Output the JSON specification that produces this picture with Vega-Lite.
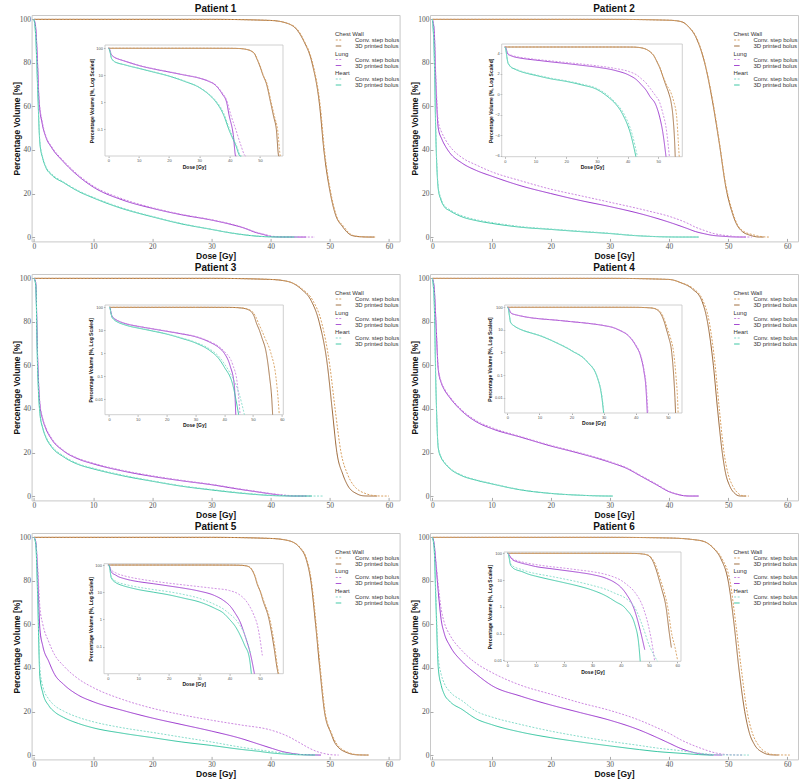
{
"$schema":"https://vega.github.io/schema/vega-lite/v6.json",
"padding":{"left":11.6,"top":3,"right":0,"bottom":0},
"config":{
 "view":{"stroke":"#c8c8c8"},
 "title":{"fontSize":10,"font":"Liberation Sans","fontWeight":"bold","offset":1,"frame":"group","color":"#111"},
 "axis":{"labelFont":"Liberation Serif","labelFontSize":7.5,"labelColor":"#555","titleFont":"Liberation Sans","titleFontSize":8.5,"titleFontWeight":"bold","titleColor":"#111","domain":false,"grid":false,"tickColor":"#aaa","tickSize":-3,"labelPadding":4,"titlePadding":2},
 "axisY":{"titlePadding":-2},
 "legend":{"orient":"none","legendX":303.4,"titleFontSize":6,"labelFontSize":6,"titleFontWeight":"normal","titleFont":"Liberation Sans","labelFont":"Liberation Sans","titleColor":"#333","labelColor":"#333","titlePadding":0,"rowPadding":0,"padding":0,"symbolSize":30,"clipHeight":6,"symbolStrokeWidth":1,"labelOffset":13}
},
"datasets":{
"ser":[{"s":"CC","organ":"Chest Wall","bolus":"Conv. step bolus"},{"s":"C3","organ":"Chest Wall","bolus":"3D printed bolus"},{"s":"LC","organ":"Lung","bolus":"Conv. step bolus"},{"s":"L3","organ":"Lung","bolus":"3D printed bolus"},{"s":"HC","organ":"Heart","bolus":"Conv. step bolus"},{"s":"H3","organ":"Heart","bolus":"3D printed bolus"}],
"dvh":[
{"p":1,"s":"C3","d":0,"v":100},{"p":1,"s":"C3","d":30,"v":100},{"p":1,"s":"C3","d":40,"v":99.5},{"p":1,"s":"C3","d":43,"v":98},{"p":1,"s":"C3","d":44.5,"v":95},{"p":1,"s":"C3","d":45.6,"v":90},{"p":1,"s":"C3","d":47,"v":80},{"p":1,"s":"C3","d":48.3,"v":60},{"p":1,"s":"C3","d":49,"v":40},{"p":1,"s":"C3","d":50.1,"v":20},{"p":1,"s":"C3","d":51,"v":10},{"p":1,"s":"C3","d":52.1,"v":5},{"p":1,"s":"C3","d":53.5,"v":1},{"p":1,"s":"C3","d":54.5,"v":0.3},{"p":1,"s":"C3","d":55.4,"v":0.1},{"p":1,"s":"C3","d":56.2,"v":0.01},{"p":1,"s":"C3","d":56.4,"v":0.001},{"p":1,"s":"C3","d":57.5,"v":0},
{"p":1,"s":"CC","d":0,"v":100},{"p":1,"s":"CC","d":30,"v":100},{"p":1,"s":"CC","d":40,"v":99.5},{"p":1,"s":"CC","d":43,"v":98},{"p":1,"s":"CC","d":44.5,"v":95.5},{"p":1,"s":"CC","d":45.7,"v":90},{"p":1,"s":"CC","d":47.1,"v":80},{"p":1,"s":"CC","d":48.4,"v":60},{"p":1,"s":"CC","d":49.1,"v":40},{"p":1,"s":"CC","d":50.2,"v":20},{"p":1,"s":"CC","d":51.1,"v":10},{"p":1,"s":"CC","d":52.3,"v":5},{"p":1,"s":"CC","d":53.7,"v":1},{"p":1,"s":"CC","d":54.8,"v":0.3},{"p":1,"s":"CC","d":55.8,"v":0.1},{"p":1,"s":"CC","d":56.8,"v":0.01},{"p":1,"s":"CC","d":57,"v":0.001},{"p":1,"s":"CC","d":57.8,"v":0},
{"p":1,"s":"L3","d":0,"v":100},{"p":1,"s":"L3","d":0.3,"v":96},{"p":1,"s":"L3","d":0.6,"v":80},{"p":1,"s":"L3","d":0.85,"v":63},{"p":1,"s":"L3","d":1.4,"v":52},{"p":1,"s":"L3","d":2,"v":46},{"p":1,"s":"L3","d":3,"v":41},{"p":1,"s":"L3","d":5,"v":34.5},{"p":1,"s":"L3","d":7.5,"v":28},{"p":1,"s":"L3","d":10,"v":23},{"p":1,"s":"L3","d":15,"v":17},{"p":1,"s":"L3","d":20,"v":13.2},{"p":1,"s":"L3","d":25,"v":10.2},{"p":1,"s":"L3","d":30,"v":7.8},{"p":1,"s":"L3","d":33,"v":6},{"p":1,"s":"L3","d":35.2,"v":4.4},{"p":1,"s":"L3","d":37.6,"v":2},{"p":1,"s":"L3","d":39,"v":1},{"p":1,"s":"L3","d":39.8,"v":0.34},{"p":1,"s":"L3","d":41.2,"v":0.063},{"p":1,"s":"L3","d":42,"v":0.01},{"p":1,"s":"L3","d":42.2,"v":0.001},{"p":1,"s":"L3","d":46,"v":0},
{"p":1,"s":"LC","d":0,"v":100},{"p":1,"s":"LC","d":0.3,"v":96},{"p":1,"s":"LC","d":0.6,"v":81},{"p":1,"s":"LC","d":0.85,"v":64},{"p":1,"s":"LC","d":1.4,"v":53},{"p":1,"s":"LC","d":2,"v":46.5},{"p":1,"s":"LC","d":3,"v":41.5},{"p":1,"s":"LC","d":5,"v":35},{"p":1,"s":"LC","d":7.5,"v":28.5},{"p":1,"s":"LC","d":10,"v":23.5},{"p":1,"s":"LC","d":15,"v":17.5},{"p":1,"s":"LC","d":20,"v":13.5},{"p":1,"s":"LC","d":25,"v":10.4},{"p":1,"s":"LC","d":30,"v":8},{"p":1,"s":"LC","d":33,"v":6.2},{"p":1,"s":"LC","d":35.2,"v":4.6},{"p":1,"s":"LC","d":37.6,"v":2.2},{"p":1,"s":"LC","d":39,"v":1.2},{"p":1,"s":"LC","d":40.4,"v":0.34},{"p":1,"s":"LC","d":42,"v":0.1},{"p":1,"s":"LC","d":43.5,"v":0.03},{"p":1,"s":"LC","d":45.3,"v":0.01},{"p":1,"s":"LC","d":45.5,"v":0.001},{"p":1,"s":"LC","d":47.5,"v":0},
{"p":1,"s":"H3","d":0,"v":100},{"p":1,"s":"H3","d":0.3,"v":92},{"p":1,"s":"H3","d":0.6,"v":70},{"p":1,"s":"H3","d":1,"v":43},{"p":1,"s":"H3","d":1.5,"v":36},{"p":1,"s":"H3","d":2,"v":32},{"p":1,"s":"H3","d":3,"v":28.5},{"p":1,"s":"H3","d":5,"v":25},{"p":1,"s":"H3","d":7.5,"v":21},{"p":1,"s":"H3","d":10,"v":18},{"p":1,"s":"H3","d":15,"v":13},{"p":1,"s":"H3","d":20,"v":9.3},{"p":1,"s":"H3","d":25,"v":6},{"p":1,"s":"H3","d":30,"v":3.5},{"p":1,"s":"H3","d":33,"v":2},{"p":1,"s":"H3","d":35,"v":1.2},{"p":1,"s":"H3","d":38,"v":0.34},{"p":1,"s":"H3","d":40,"v":0.083},{"p":1,"s":"H3","d":42,"v":0.026},{"p":1,"s":"H3","d":43.5,"v":0.01},{"p":1,"s":"H3","d":43.7,"v":0.001},{"p":1,"s":"H3","d":44,"v":0},
{"p":1,"s":"HC","d":0,"v":100},{"p":1,"s":"HC","d":0.3,"v":92},{"p":1,"s":"HC","d":0.6,"v":71},{"p":1,"s":"HC","d":1,"v":44},{"p":1,"s":"HC","d":1.5,"v":36.5},{"p":1,"s":"HC","d":2,"v":32.5},{"p":1,"s":"HC","d":3,"v":29},{"p":1,"s":"HC","d":5,"v":25.3},{"p":1,"s":"HC","d":7.5,"v":21.3},{"p":1,"s":"HC","d":10,"v":18.3},{"p":1,"s":"HC","d":15,"v":13.3},{"p":1,"s":"HC","d":20,"v":9.5},{"p":1,"s":"HC","d":25,"v":6.2},{"p":1,"s":"HC","d":30,"v":3.6},{"p":1,"s":"HC","d":33,"v":2.1},{"p":1,"s":"HC","d":35,"v":1.3},{"p":1,"s":"HC","d":38,"v":0.4},{"p":1,"s":"HC","d":40,"v":0.1},{"p":1,"s":"HC","d":42,"v":0.03},{"p":1,"s":"HC","d":43.8,"v":0.01},{"p":1,"s":"HC","d":44,"v":0.001},{"p":1,"s":"HC","d":44.5,"v":0},
{"p":2,"s":"C3","d":0,"v":100},{"p":2,"s":"C3","d":30,"v":100},{"p":2,"s":"C3","d":40,"v":99.6},{"p":2,"s":"C3","d":42,"v":99},{"p":2,"s":"C3","d":43.5,"v":96},{"p":2,"s":"C3","d":44.5,"v":92},{"p":2,"s":"C3","d":46.2,"v":78},{"p":2,"s":"C3","d":47.3,"v":63},{"p":2,"s":"C3","d":48.5,"v":43},{"p":2,"s":"C3","d":49.6,"v":23},{"p":2,"s":"C3","d":50.7,"v":11},{"p":2,"s":"C3","d":51.5,"v":5.5},{"p":2,"s":"C3","d":52.4,"v":2.5},{"p":2,"s":"C3","d":53.5,"v":1},{"p":2,"s":"C3","d":54.1,"v":0.5},{"p":2,"s":"C3","d":54.8,"v":0.1},{"p":2,"s":"C3","d":55.3,"v":0.01},{"p":2,"s":"C3","d":55.5,"v":0.002},{"p":2,"s":"C3","d":56,"v":0},
{"p":2,"s":"CC","d":0,"v":100},{"p":2,"s":"CC","d":30,"v":100},{"p":2,"s":"CC","d":40,"v":99.6},{"p":2,"s":"CC","d":42,"v":99},{"p":2,"s":"CC","d":43.5,"v":96.2},{"p":2,"s":"CC","d":44.5,"v":92.5},{"p":2,"s":"CC","d":46.2,"v":78.5},{"p":2,"s":"CC","d":47.3,"v":64},{"p":2,"s":"CC","d":48.5,"v":44},{"p":2,"s":"CC","d":49.6,"v":24},{"p":2,"s":"CC","d":50.7,"v":12},{"p":2,"s":"CC","d":51.5,"v":6},{"p":2,"s":"CC","d":52.5,"v":2.8},{"p":2,"s":"CC","d":54.3,"v":1},{"p":2,"s":"CC","d":55,"v":0.5},{"p":2,"s":"CC","d":56,"v":0.1},{"p":2,"s":"CC","d":56.5,"v":0.01},{"p":2,"s":"CC","d":56.8,"v":0.002},{"p":2,"s":"CC","d":57,"v":0},
{"p":2,"s":"L3","d":0,"v":100},{"p":2,"s":"L3","d":0.3,"v":95},{"p":2,"s":"L3","d":0.6,"v":70},{"p":2,"s":"L3","d":1,"v":50},{"p":2,"s":"L3","d":1.6,"v":45},{"p":2,"s":"L3","d":2.25,"v":41.5},{"p":2,"s":"L3","d":3,"v":38.5},{"p":2,"s":"L3","d":5,"v":34},{"p":2,"s":"L3","d":7.5,"v":30.5},{"p":2,"s":"L3","d":10,"v":28},{"p":2,"s":"L3","d":15,"v":23.5},{"p":2,"s":"L3","d":20,"v":20},{"p":2,"s":"L3","d":25,"v":16.8},{"p":2,"s":"L3","d":30,"v":14},{"p":2,"s":"L3","d":36,"v":10.1},{"p":2,"s":"L3","d":40.6,"v":6.3},{"p":2,"s":"L3","d":43,"v":4},{"p":2,"s":"L3","d":44.5,"v":2.5},{"p":2,"s":"L3","d":46,"v":1.5},{"p":2,"s":"L3","d":47.3,"v":0.8},{"p":2,"s":"L3","d":49.2,"v":0.35},{"p":2,"s":"L3","d":50.5,"v":0.1},{"p":2,"s":"L3","d":51.4,"v":0.027},{"p":2,"s":"L3","d":52.5,"v":0.002},{"p":2,"s":"L3","d":53,"v":0},
{"p":2,"s":"LC","d":0,"v":100},{"p":2,"s":"LC","d":0.3,"v":96},{"p":2,"s":"LC","d":0.6,"v":73},{"p":2,"s":"LC","d":1,"v":53},{"p":2,"s":"LC","d":1.6,"v":48},{"p":2,"s":"LC","d":2.25,"v":44.5},{"p":2,"s":"LC","d":3,"v":41.5},{"p":2,"s":"LC","d":5,"v":36.5},{"p":2,"s":"LC","d":7.5,"v":33},{"p":2,"s":"LC","d":10,"v":30},{"p":2,"s":"LC","d":15,"v":25.8},{"p":2,"s":"LC","d":20,"v":22},{"p":2,"s":"LC","d":25,"v":19},{"p":2,"s":"LC","d":30,"v":16},{"p":2,"s":"LC","d":36,"v":12.3},{"p":2,"s":"LC","d":40.6,"v":9},{"p":2,"s":"LC","d":43,"v":6.5},{"p":2,"s":"LC","d":44.5,"v":4.5},{"p":2,"s":"LC","d":46,"v":3},{"p":2,"s":"LC","d":47.3,"v":1.8},{"p":2,"s":"LC","d":49,"v":0.9},{"p":2,"s":"LC","d":50.3,"v":0.5},{"p":2,"s":"LC","d":51.5,"v":0.15},{"p":2,"s":"LC","d":52.5,"v":0.04},{"p":2,"s":"LC","d":53.6,"v":0.002},{"p":2,"s":"LC","d":54,"v":0},
{"p":2,"s":"H3","d":0,"v":100},{"p":2,"s":"H3","d":0.3,"v":85},{"p":2,"s":"H3","d":0.6,"v":45},{"p":2,"s":"H3","d":1,"v":22},{"p":2,"s":"H3","d":1.4,"v":17.5},{"p":2,"s":"H3","d":2,"v":14},{"p":2,"s":"H3","d":3,"v":12},{"p":2,"s":"H3","d":5,"v":9.3},{"p":2,"s":"H3","d":7.5,"v":7.5},{"p":2,"s":"H3","d":10,"v":6.3},{"p":2,"s":"H3","d":15,"v":4.5},{"p":2,"s":"H3","d":20,"v":3.5},{"p":2,"s":"H3","d":25,"v":2.5},{"p":2,"s":"H3","d":30,"v":1.6},{"p":2,"s":"H3","d":34,"v":0.7},{"p":2,"s":"H3","d":36,"v":0.4},{"p":2,"s":"H3","d":38.4,"v":0.14},{"p":2,"s":"H3","d":41,"v":0.02},{"p":2,"s":"H3","d":42.7,"v":0.002},{"p":2,"s":"H3","d":45,"v":0},
{"p":2,"s":"HC","d":0,"v":100},{"p":2,"s":"HC","d":0.3,"v":86},{"p":2,"s":"HC","d":0.6,"v":47},{"p":2,"s":"HC","d":1,"v":23},{"p":2,"s":"HC","d":1.4,"v":18.2},{"p":2,"s":"HC","d":2,"v":14.6},{"p":2,"s":"HC","d":3,"v":12.5},{"p":2,"s":"HC","d":5,"v":9.8},{"p":2,"s":"HC","d":7.5,"v":7.9},{"p":2,"s":"HC","d":10,"v":6.7},{"p":2,"s":"HC","d":15,"v":4.8},{"p":2,"s":"HC","d":20,"v":3.7},{"p":2,"s":"HC","d":25,"v":2.7},{"p":2,"s":"HC","d":30,"v":1.75},{"p":2,"s":"HC","d":34,"v":0.8},{"p":2,"s":"HC","d":36,"v":0.45},{"p":2,"s":"HC","d":38.9,"v":0.14},{"p":2,"s":"HC","d":41.5,"v":0.02},{"p":2,"s":"HC","d":43.2,"v":0.002},{"p":2,"s":"HC","d":45,"v":0},
{"p":3,"s":"C3","d":0,"v":100},{"p":3,"s":"C3","d":30,"v":100},{"p":3,"s":"C3","d":40,"v":99.5},{"p":3,"s":"C3","d":43,"v":98.5},{"p":3,"s":"C3","d":45.2,"v":95},{"p":3,"s":"C3","d":46.8,"v":90},{"p":3,"s":"C3","d":48.2,"v":80},{"p":3,"s":"C3","d":49.6,"v":60},{"p":3,"s":"C3","d":50.4,"v":40},{"p":3,"s":"C3","d":51.2,"v":20},{"p":3,"s":"C3","d":52.2,"v":10},{"p":3,"s":"C3","d":53,"v":5},{"p":3,"s":"C3","d":54.6,"v":1},{"p":3,"s":"C3","d":55.7,"v":0.1},{"p":3,"s":"C3","d":56.5,"v":0.01},{"p":3,"s":"C3","d":56.8,"v":0.001},{"p":3,"s":"C3","d":58,"v":0},
{"p":3,"s":"CC","d":0,"v":100},{"p":3,"s":"CC","d":30,"v":100},{"p":3,"s":"CC","d":40,"v":99.5},{"p":3,"s":"CC","d":43,"v":98.5},{"p":3,"s":"CC","d":45.4,"v":95},{"p":3,"s":"CC","d":47.1,"v":90},{"p":3,"s":"CC","d":48.6,"v":80},{"p":3,"s":"CC","d":50,"v":60},{"p":3,"s":"CC","d":50.9,"v":40},{"p":3,"s":"CC","d":51.9,"v":20},{"p":3,"s":"CC","d":53,"v":10},{"p":3,"s":"CC","d":54,"v":5},{"p":3,"s":"CC","d":56.2,"v":1},{"p":3,"s":"CC","d":57.9,"v":0.1},{"p":3,"s":"CC","d":58.7,"v":0.01},{"p":3,"s":"CC","d":59.1,"v":0.001},{"p":3,"s":"CC","d":60,"v":0},
{"p":3,"s":"L3","d":0,"v":100},{"p":3,"s":"L3","d":0.3,"v":98},{"p":3,"s":"L3","d":0.6,"v":65},{"p":3,"s":"L3","d":1,"v":42},{"p":3,"s":"L3","d":1.5,"v":35},{"p":3,"s":"L3","d":2,"v":31},{"p":3,"s":"L3","d":3,"v":26},{"p":3,"s":"L3","d":5,"v":20.7},{"p":3,"s":"L3","d":7.5,"v":17},{"p":3,"s":"L3","d":10,"v":14.8},{"p":3,"s":"L3","d":15,"v":11.5},{"p":3,"s":"L3","d":20,"v":9},{"p":3,"s":"L3","d":25,"v":7},{"p":3,"s":"L3","d":30,"v":5.2},{"p":3,"s":"L3","d":35,"v":3},{"p":3,"s":"L3","d":38,"v":1.8},{"p":3,"s":"L3","d":40,"v":1},{"p":3,"s":"L3","d":42,"v":0.29},{"p":3,"s":"L3","d":43.5,"v":0.04},{"p":3,"s":"L3","d":44,"v":0.001},{"p":3,"s":"L3","d":46,"v":0},
{"p":3,"s":"LC","d":0,"v":100},{"p":3,"s":"LC","d":0.3,"v":98},{"p":3,"s":"LC","d":0.6,"v":66},{"p":3,"s":"LC","d":1,"v":43},{"p":3,"s":"LC","d":1.5,"v":35.5},{"p":3,"s":"LC","d":2,"v":31.5},{"p":3,"s":"LC","d":3,"v":26.5},{"p":3,"s":"LC","d":5,"v":21},{"p":3,"s":"LC","d":7.5,"v":17.3},{"p":3,"s":"LC","d":10,"v":15.1},{"p":3,"s":"LC","d":15,"v":11.8},{"p":3,"s":"LC","d":20,"v":9.3},{"p":3,"s":"LC","d":25,"v":7.2},{"p":3,"s":"LC","d":30,"v":5.4},{"p":3,"s":"LC","d":35,"v":3.2},{"p":3,"s":"LC","d":38,"v":2},{"p":3,"s":"LC","d":40,"v":1.2},{"p":3,"s":"LC","d":43,"v":0.3},{"p":3,"s":"LC","d":44.5,"v":0.05},{"p":3,"s":"LC","d":45.5,"v":0.001},{"p":3,"s":"LC","d":47,"v":0},
{"p":3,"s":"H3","d":0,"v":100},{"p":3,"s":"H3","d":0.3,"v":97},{"p":3,"s":"H3","d":0.6,"v":60},{"p":3,"s":"H3","d":1,"v":38},{"p":3,"s":"H3","d":1.5,"v":31},{"p":3,"s":"H3","d":2,"v":27},{"p":3,"s":"H3","d":3,"v":22.5},{"p":3,"s":"H3","d":5,"v":18},{"p":3,"s":"H3","d":7.5,"v":14.5},{"p":3,"s":"H3","d":10,"v":12.5},{"p":3,"s":"H3","d":15,"v":9.3},{"p":3,"s":"H3","d":20,"v":6.8},{"p":3,"s":"H3","d":25,"v":4.5},{"p":3,"s":"H3","d":30,"v":2.8},{"p":3,"s":"H3","d":35,"v":1.3},{"p":3,"s":"H3","d":38,"v":0.6},{"p":3,"s":"H3","d":40,"v":0.25},{"p":3,"s":"H3","d":43,"v":0.04},{"p":3,"s":"H3","d":45,"v":0.001},{"p":3,"s":"H3","d":47,"v":0},
{"p":3,"s":"HC","d":0,"v":100},{"p":3,"s":"HC","d":0.3,"v":97},{"p":3,"s":"HC","d":0.6,"v":61},{"p":3,"s":"HC","d":1,"v":39},{"p":3,"s":"HC","d":1.5,"v":31.5},{"p":3,"s":"HC","d":2,"v":27.5},{"p":3,"s":"HC","d":3,"v":23},{"p":3,"s":"HC","d":5,"v":18.4},{"p":3,"s":"HC","d":7.5,"v":14.8},{"p":3,"s":"HC","d":10,"v":12.8},{"p":3,"s":"HC","d":15,"v":9.6},{"p":3,"s":"HC","d":20,"v":7},{"p":3,"s":"HC","d":25,"v":4.7},{"p":3,"s":"HC","d":30,"v":3},{"p":3,"s":"HC","d":35,"v":1.5},{"p":3,"s":"HC","d":38,"v":0.75},{"p":3,"s":"HC","d":40,"v":0.35},{"p":3,"s":"HC","d":43,"v":0.08},{"p":3,"s":"HC","d":45,"v":0.02},{"p":3,"s":"HC","d":47,"v":0.001},{"p":3,"s":"HC","d":49,"v":0},
{"p":4,"s":"C3","d":0,"v":100},{"p":4,"s":"C3","d":30,"v":100},{"p":4,"s":"C3","d":40,"v":99.5},{"p":4,"s":"C3","d":42,"v":98},{"p":4,"s":"C3","d":44,"v":95},{"p":4,"s":"C3","d":45.5,"v":90},{"p":4,"s":"C3","d":46.5,"v":80},{"p":4,"s":"C3","d":47.5,"v":60},{"p":4,"s":"C3","d":48.2,"v":40},{"p":4,"s":"C3","d":49,"v":20},{"p":4,"s":"C3","d":49.6,"v":10},{"p":4,"s":"C3","d":50.2,"v":5},{"p":4,"s":"C3","d":51.2,"v":1},{"p":4,"s":"C3","d":51.8,"v":0.1},{"p":4,"s":"C3","d":52.2,"v":0.01},{"p":4,"s":"C3","d":52.4,"v":0.001},{"p":4,"s":"C3","d":53,"v":0},
{"p":4,"s":"CC","d":0,"v":100},{"p":4,"s":"CC","d":30,"v":100},{"p":4,"s":"CC","d":40,"v":99.5},{"p":4,"s":"CC","d":42,"v":98},{"p":4,"s":"CC","d":44,"v":95.5},{"p":4,"s":"CC","d":45.7,"v":90},{"p":4,"s":"CC","d":46.8,"v":80},{"p":4,"s":"CC","d":47.8,"v":60},{"p":4,"s":"CC","d":48.5,"v":40},{"p":4,"s":"CC","d":49.3,"v":20},{"p":4,"s":"CC","d":50,"v":10},{"p":4,"s":"CC","d":50.7,"v":5},{"p":4,"s":"CC","d":51.8,"v":1},{"p":4,"s":"CC","d":52.5,"v":0.1},{"p":4,"s":"CC","d":53,"v":0.01},{"p":4,"s":"CC","d":53.2,"v":0.001},{"p":4,"s":"CC","d":53.5,"v":0},
{"p":4,"s":"L3","d":0,"v":100},{"p":4,"s":"L3","d":0.3,"v":96},{"p":4,"s":"L3","d":0.6,"v":80},{"p":4,"s":"L3","d":1,"v":58},{"p":4,"s":"L3","d":1.5,"v":52},{"p":4,"s":"L3","d":2,"v":49},{"p":4,"s":"L3","d":3,"v":45},{"p":4,"s":"L3","d":5,"v":39},{"p":4,"s":"L3","d":7.5,"v":34},{"p":4,"s":"L3","d":10,"v":31},{"p":4,"s":"L3","d":15,"v":27},{"p":4,"s":"L3","d":20,"v":23},{"p":4,"s":"L3","d":25,"v":19.5},{"p":4,"s":"L3","d":30,"v":15.5},{"p":4,"s":"L3","d":33,"v":12.5},{"p":4,"s":"L3","d":35,"v":9.5},{"p":4,"s":"L3","d":38,"v":5},{"p":4,"s":"L3","d":40,"v":2},{"p":4,"s":"L3","d":41.5,"v":0.7},{"p":4,"s":"L3","d":42.5,"v":0.16},{"p":4,"s":"L3","d":43.2,"v":0.024},{"p":4,"s":"L3","d":43.6,"v":0.001},{"p":4,"s":"L3","d":45,"v":0},
{"p":4,"s":"LC","d":0,"v":100},{"p":4,"s":"LC","d":0.3,"v":96},{"p":4,"s":"LC","d":0.6,"v":81},{"p":4,"s":"LC","d":1,"v":59},{"p":4,"s":"LC","d":1.5,"v":52.5},{"p":4,"s":"LC","d":2,"v":49.5},{"p":4,"s":"LC","d":3,"v":45.5},{"p":4,"s":"LC","d":5,"v":39.5},{"p":4,"s":"LC","d":7.5,"v":34.5},{"p":4,"s":"LC","d":10,"v":31.5},{"p":4,"s":"LC","d":15,"v":27.3},{"p":4,"s":"LC","d":20,"v":23.3},{"p":4,"s":"LC","d":25,"v":19.8},{"p":4,"s":"LC","d":30,"v":15.8},{"p":4,"s":"LC","d":33,"v":12.8},{"p":4,"s":"LC","d":35,"v":9.8},{"p":4,"s":"LC","d":38,"v":5.3},{"p":4,"s":"LC","d":40,"v":2.2},{"p":4,"s":"LC","d":41.5,"v":0.8},{"p":4,"s":"LC","d":42.5,"v":0.2},{"p":4,"s":"LC","d":43.3,"v":0.03},{"p":4,"s":"LC","d":43.8,"v":0.001},{"p":4,"s":"LC","d":45,"v":0},
{"p":4,"s":"H3","d":0,"v":100},{"p":4,"s":"H3","d":0.3,"v":90},{"p":4,"s":"H3","d":0.6,"v":50},{"p":4,"s":"H3","d":1,"v":22},{"p":4,"s":"H3","d":1.5,"v":17.5},{"p":4,"s":"H3","d":2,"v":15.4},{"p":4,"s":"H3","d":3,"v":12.5},{"p":4,"s":"H3","d":5,"v":9.3},{"p":4,"s":"H3","d":7.5,"v":7.2},{"p":4,"s":"H3","d":10,"v":5.6},{"p":4,"s":"H3","d":15,"v":2.8},{"p":4,"s":"H3","d":20,"v":1.2},{"p":4,"s":"H3","d":25,"v":0.37},{"p":4,"s":"H3","d":28,"v":0.08},{"p":4,"s":"H3","d":29.5,"v":0.009},{"p":4,"s":"H3","d":30,"v":0.001},{"p":4,"s":"H3","d":30.5,"v":0},
{"p":4,"s":"HC","d":0,"v":100},{"p":4,"s":"HC","d":0.3,"v":90},{"p":4,"s":"HC","d":0.6,"v":51},{"p":4,"s":"HC","d":1,"v":22.5},{"p":4,"s":"HC","d":1.5,"v":18},{"p":4,"s":"HC","d":2,"v":15.8},{"p":4,"s":"HC","d":3,"v":12.8},{"p":4,"s":"HC","d":5,"v":9.6},{"p":4,"s":"HC","d":7.5,"v":7.4},{"p":4,"s":"HC","d":10,"v":5.8},{"p":4,"s":"HC","d":15,"v":2.9},{"p":4,"s":"HC","d":20,"v":1.25},{"p":4,"s":"HC","d":25,"v":0.39},{"p":4,"s":"HC","d":28,"v":0.085},{"p":4,"s":"HC","d":29.6,"v":0.009},{"p":4,"s":"HC","d":30.1,"v":0.001},{"p":4,"s":"HC","d":30.5,"v":0},
{"p":5,"s":"C3","d":0,"v":100},{"p":5,"s":"C3","d":30,"v":100},{"p":5,"s":"C3","d":40,"v":99.5},{"p":5,"s":"C3","d":43,"v":98.5},{"p":5,"s":"C3","d":45,"v":95},{"p":5,"s":"C3","d":46,"v":90},{"p":5,"s":"C3","d":46.8,"v":80},{"p":5,"s":"C3","d":47.6,"v":60},{"p":5,"s":"C3","d":48.3,"v":40},{"p":5,"s":"C3","d":49.1,"v":20},{"p":5,"s":"C3","d":50.2,"v":10},{"p":5,"s":"C3","d":51,"v":5},{"p":5,"s":"C3","d":53,"v":1},{"p":5,"s":"C3","d":54.6,"v":0.1},{"p":5,"s":"C3","d":55.7,"v":0.015},{"p":5,"s":"C3","d":56,"v":0.005},{"p":5,"s":"C3","d":56.5,"v":0},
{"p":5,"s":"CC","d":0,"v":100},{"p":5,"s":"CC","d":30,"v":100},{"p":5,"s":"CC","d":40,"v":99.5},{"p":5,"s":"CC","d":43,"v":98.5},{"p":5,"s":"CC","d":45.1,"v":95},{"p":5,"s":"CC","d":46.1,"v":90},{"p":5,"s":"CC","d":46.9,"v":80},{"p":5,"s":"CC","d":47.7,"v":60},{"p":5,"s":"CC","d":48.4,"v":40},{"p":5,"s":"CC","d":49.2,"v":20},{"p":5,"s":"CC","d":50.3,"v":10},{"p":5,"s":"CC","d":51.2,"v":5},{"p":5,"s":"CC","d":53.3,"v":1},{"p":5,"s":"CC","d":54.9,"v":0.1},{"p":5,"s":"CC","d":55.9,"v":0.015},{"p":5,"s":"CC","d":56.2,"v":0.005},{"p":5,"s":"CC","d":56.6,"v":0},
{"p":5,"s":"L3","d":0,"v":100},{"p":5,"s":"L3","d":0.3,"v":98},{"p":5,"s":"L3","d":0.6,"v":85},{"p":5,"s":"L3","d":1,"v":58},{"p":5,"s":"L3","d":1.5,"v":50},{"p":5,"s":"L3","d":2.5,"v":43},{"p":5,"s":"L3","d":3.5,"v":37},{"p":5,"s":"L3","d":5,"v":32.5},{"p":5,"s":"L3","d":7.5,"v":27.5},{"p":5,"s":"L3","d":10,"v":24.5},{"p":5,"s":"L3","d":15,"v":20.5},{"p":5,"s":"L3","d":20,"v":17},{"p":5,"s":"L3","d":25,"v":14},{"p":5,"s":"L3","d":30,"v":11},{"p":5,"s":"L3","d":35,"v":7.6},{"p":5,"s":"L3","d":38,"v":5},{"p":5,"s":"L3","d":40.3,"v":3},{"p":5,"s":"L3","d":42,"v":1.6},{"p":5,"s":"L3","d":43.5,"v":0.8},{"p":5,"s":"L3","d":45,"v":0.27},{"p":5,"s":"L3","d":47,"v":0.047},{"p":5,"s":"L3","d":48.2,"v":0.005},{"p":5,"s":"L3","d":48.5,"v":0},
{"p":5,"s":"LC","d":0,"v":100},{"p":5,"s":"LC","d":0.3,"v":98},{"p":5,"s":"LC","d":0.6,"v":88},{"p":5,"s":"LC","d":1,"v":68},{"p":5,"s":"LC","d":1.5,"v":60},{"p":5,"s":"LC","d":2.5,"v":52},{"p":5,"s":"LC","d":3.5,"v":46},{"p":5,"s":"LC","d":5,"v":41},{"p":5,"s":"LC","d":7.5,"v":35},{"p":5,"s":"LC","d":10,"v":31},{"p":5,"s":"LC","d":15,"v":25.5},{"p":5,"s":"LC","d":20,"v":21.5},{"p":5,"s":"LC","d":25,"v":18.5},{"p":5,"s":"LC","d":30,"v":16},{"p":5,"s":"LC","d":35,"v":13.8},{"p":5,"s":"LC","d":40,"v":11.5},{"p":5,"s":"LC","d":43,"v":8.5},{"p":5,"s":"LC","d":45,"v":5.5},{"p":5,"s":"LC","d":46.5,"v":3.2},{"p":5,"s":"LC","d":48,"v":1.45},{"p":5,"s":"LC","d":49.2,"v":0.6},{"p":5,"s":"LC","d":50,"v":0.2},{"p":5,"s":"LC","d":50.8,"v":0.047},{"p":5,"s":"LC","d":51.5,"v":0},
{"p":5,"s":"H3","d":0,"v":100},{"p":5,"s":"H3","d":0.3,"v":97},{"p":5,"s":"H3","d":0.6,"v":75},{"p":5,"s":"H3","d":1,"v":36},{"p":5,"s":"H3","d":1.5,"v":28.5},{"p":5,"s":"H3","d":2.5,"v":22.7},{"p":5,"s":"H3","d":3.5,"v":19.8},{"p":5,"s":"H3","d":5,"v":17.3},{"p":5,"s":"H3","d":7.5,"v":14.5},{"p":5,"s":"H3","d":10,"v":12.5},{"p":5,"s":"H3","d":15,"v":10},{"p":5,"s":"H3","d":20,"v":8},{"p":5,"s":"H3","d":25,"v":6},{"p":5,"s":"H3","d":30,"v":4.4},{"p":5,"s":"H3","d":35,"v":2.6},{"p":5,"s":"H3","d":38,"v":1.7},{"p":5,"s":"H3","d":40,"v":1},{"p":5,"s":"H3","d":42,"v":0.53},{"p":5,"s":"H3","d":45,"v":0.11},{"p":5,"s":"H3","d":46.5,"v":0.04},{"p":5,"s":"H3","d":47.2,"v":0.005},{"p":5,"s":"H3","d":47.5,"v":0},
{"p":5,"s":"HC","d":0,"v":100},{"p":5,"s":"HC","d":0.3,"v":97},{"p":5,"s":"HC","d":0.6,"v":78},{"p":5,"s":"HC","d":1,"v":40},{"p":5,"s":"HC","d":1.5,"v":31.5},{"p":5,"s":"HC","d":2.5,"v":25.7},{"p":5,"s":"HC","d":3.5,"v":22.7},{"p":5,"s":"HC","d":5,"v":20.2},{"p":5,"s":"HC","d":7.5,"v":17.3},{"p":5,"s":"HC","d":10,"v":15.3},{"p":5,"s":"HC","d":15,"v":12.5},{"p":5,"s":"HC","d":20,"v":10.4},{"p":5,"s":"HC","d":25,"v":8.2},{"p":5,"s":"HC","d":30,"v":6},{"p":5,"s":"HC","d":35,"v":3.6},{"p":5,"s":"HC","d":38,"v":2.4},{"p":5,"s":"HC","d":40,"v":1.6},{"p":5,"s":"HC","d":42,"v":1},{"p":5,"s":"HC","d":45,"v":0.27},{"p":5,"s":"HC","d":47,"v":0.055},{"p":5,"s":"HC","d":48,"v":0},
{"p":6,"s":"C3","d":0,"v":100},{"p":6,"s":"C3","d":30,"v":100},{"p":6,"s":"C3","d":40,"v":99.7},{"p":6,"s":"C3","d":44,"v":99},{"p":6,"s":"C3","d":46,"v":98},{"p":6,"s":"C3","d":47.5,"v":95},{"p":6,"s":"C3","d":48.8,"v":90},{"p":6,"s":"C3","d":50,"v":80},{"p":6,"s":"C3","d":51,"v":60},{"p":6,"s":"C3","d":51.8,"v":40},{"p":6,"s":"C3","d":52.8,"v":20},{"p":6,"s":"C3","d":53.6,"v":10},{"p":6,"s":"C3","d":54.4,"v":5},{"p":6,"s":"C3","d":56,"v":1},{"p":6,"s":"C3","d":57.2,"v":0.1},{"p":6,"s":"C3","d":57.9,"v":0.03},{"p":6,"s":"C3","d":58.5,"v":0},
{"p":6,"s":"CC","d":0,"v":100},{"p":6,"s":"CC","d":30,"v":100},{"p":6,"s":"CC","d":40,"v":99.7},{"p":6,"s":"CC","d":44,"v":99},{"p":6,"s":"CC","d":46,"v":98},{"p":6,"s":"CC","d":47.6,"v":95},{"p":6,"s":"CC","d":49,"v":90},{"p":6,"s":"CC","d":50.3,"v":80},{"p":6,"s":"CC","d":51.3,"v":60},{"p":6,"s":"CC","d":52.2,"v":40},{"p":6,"s":"CC","d":53.2,"v":20},{"p":6,"s":"CC","d":54.1,"v":10},{"p":6,"s":"CC","d":55,"v":5},{"p":6,"s":"CC","d":56.6,"v":1},{"p":6,"s":"CC","d":58,"v":0.1},{"p":6,"s":"CC","d":59.2,"v":0.03},{"p":6,"s":"CC","d":60.1,"v":0.01},{"p":6,"s":"CC","d":60.4,"v":0},
{"p":6,"s":"L3","d":0,"v":100},{"p":6,"s":"L3","d":0.3,"v":97},{"p":6,"s":"L3","d":0.6,"v":88},{"p":6,"s":"L3","d":1,"v":75},{"p":6,"s":"L3","d":1.5,"v":62},{"p":6,"s":"L3","d":2,"v":56},{"p":6,"s":"L3","d":3,"v":50},{"p":6,"s":"L3","d":5,"v":43},{"p":6,"s":"L3","d":7.5,"v":37},{"p":6,"s":"L3","d":10,"v":32},{"p":6,"s":"L3","d":15,"v":27},{"p":6,"s":"L3","d":20,"v":23},{"p":6,"s":"L3","d":25,"v":19.5},{"p":6,"s":"L3","d":30,"v":16},{"p":6,"s":"L3","d":35,"v":11.5},{"p":6,"s":"L3","d":38,"v":8},{"p":6,"s":"L3","d":40,"v":5.5},{"p":6,"s":"L3","d":42,"v":3},{"p":6,"s":"L3","d":45,"v":0.7},{"p":6,"s":"L3","d":47,"v":0.12},{"p":6,"s":"L3","d":48.5,"v":0.025},{"p":6,"s":"L3","d":49,"v":0},
{"p":6,"s":"LC","d":0,"v":100},{"p":6,"s":"LC","d":0.3,"v":97},{"p":6,"s":"LC","d":0.6,"v":89},{"p":6,"s":"LC","d":1,"v":78},{"p":6,"s":"LC","d":1.5,"v":67},{"p":6,"s":"LC","d":2,"v":61},{"p":6,"s":"LC","d":3,"v":55},{"p":6,"s":"LC","d":5,"v":48},{"p":6,"s":"LC","d":7.5,"v":42},{"p":6,"s":"LC","d":10,"v":38},{"p":6,"s":"LC","d":15,"v":32},{"p":6,"s":"LC","d":20,"v":28},{"p":6,"s":"LC","d":25,"v":24},{"p":6,"s":"LC","d":30,"v":20.5},{"p":6,"s":"LC","d":35,"v":16},{"p":6,"s":"LC","d":38,"v":12.5},{"p":6,"s":"LC","d":40,"v":10},{"p":6,"s":"LC","d":42,"v":7},{"p":6,"s":"LC","d":45,"v":3.5},{"p":6,"s":"LC","d":48,"v":0.9},{"p":6,"s":"LC","d":50,"v":0.16},{"p":6,"s":"LC","d":51.5,"v":0.022},{"p":6,"s":"LC","d":52,"v":0.008},{"p":6,"s":"LC","d":52.5,"v":0},
{"p":6,"s":"H3","d":0,"v":100},{"p":6,"s":"H3","d":0.3,"v":95},{"p":6,"s":"H3","d":0.6,"v":70},{"p":6,"s":"H3","d":1,"v":40},{"p":6,"s":"H3","d":1.5,"v":32},{"p":6,"s":"H3","d":2,"v":28},{"p":6,"s":"H3","d":3,"v":24.5},{"p":6,"s":"H3","d":5,"v":21},{"p":6,"s":"H3","d":7.5,"v":16.5},{"p":6,"s":"H3","d":10,"v":14},{"p":6,"s":"H3","d":15,"v":10.5},{"p":6,"s":"H3","d":20,"v":8},{"p":6,"s":"H3","d":25,"v":6},{"p":6,"s":"H3","d":30,"v":4.2},{"p":6,"s":"H3","d":35,"v":2.5},{"p":6,"s":"H3","d":38,"v":1.6},{"p":6,"s":"H3","d":42,"v":0.8},{"p":6,"s":"H3","d":45,"v":0.22},{"p":6,"s":"H3","d":46.5,"v":0.03},{"p":6,"s":"H3","d":46.9,"v":0.005},{"p":6,"s":"H3","d":47.5,"v":0},
{"p":6,"s":"HC","d":0,"v":100},{"p":6,"s":"HC","d":0.3,"v":95},{"p":6,"s":"HC","d":0.6,"v":73},{"p":6,"s":"HC","d":1,"v":45},{"p":6,"s":"HC","d":1.5,"v":37},{"p":6,"s":"HC","d":2,"v":33},{"p":6,"s":"HC","d":3,"v":29},{"p":6,"s":"HC","d":5,"v":25},{"p":6,"s":"HC","d":7.5,"v":20},{"p":6,"s":"HC","d":10,"v":17.5},{"p":6,"s":"HC","d":15,"v":14},{"p":6,"s":"HC","d":20,"v":11},{"p":6,"s":"HC","d":25,"v":8.5},{"p":6,"s":"HC","d":30,"v":6.3},{"p":6,"s":"HC","d":35,"v":4.4},{"p":6,"s":"HC","d":38,"v":3.2},{"p":6,"s":"HC","d":42,"v":2},{"p":6,"s":"HC","d":45,"v":0.93},{"p":6,"s":"HC","d":48,"v":0.16},{"p":6,"s":"HC","d":50,"v":0.038},{"p":6,"s":"HC","d":52.8,"v":0.01},{"p":6,"s":"HC","d":53,"v":0.005},{"p":6,"s":"HC","d":53.5,"v":0}
]},
"data":{"name":"dvh"},
"transform":[{"lookup":"s","from":{"data":{"name":"ser"},"key":"s","fields":["organ","bolus"]}}],
"columns":2,
"spacing":{"row":1,"column":9.4},
"concat":[
{"width":368,"height":226.4,"title":"Patient 1",
 "layer":[
  {"layer":[
    {"transform":[{"filter":"datum.p==1 && datum.organ=='Chest Wall'"}],"mark":{"type":"line","strokeWidth":1,"interpolate":"monotone"},
     "encoding":{"x":{"field":"d","type":"quantitative","scale":{"domain":[-0.4,61.8],"nice":false,"zero":false},"axis":{"title":"Dose [Gy]","values":[0,10,20,30,40,50,60]}},
      "y":{"field":"v","type":"quantitative","scale":{"domain":[-2,102],"nice":false,"zero":false},"axis":{"title":"Percentage Volume [%]","values":[0,20,40,60,80,100]}},
      "color":{"field":"bolus","type":"nominal","scale":{"domain":["Conv. step bolus","3D printed bolus"],"range":["#d8a060","#9b6535"]},"legend":{"title":"Chest Wall","legendX":303.4,"legendY":16}},
      "strokeDash":{"field":"bolus","type":"nominal","scale":{"domain":["Conv. step bolus","3D printed bolus"],"range":[[2,1.5],[1,0]]},"legend":{"title":"Chest Wall","legendX":303.4,"legendY":16}}}},
    {"transform":[{"filter":"datum.p==1 && datum.organ=='Lung'"}],"mark":{"type":"line","strokeWidth":1,"interpolate":"monotone"},
     "encoding":{"x":{"field":"d","type":"quantitative","scale":{"domain":[-0.4,61.8],"nice":false,"zero":false},"axis":{"title":"Dose [Gy]","values":[0,10,20,30,40,50,60]}},
      "y":{"field":"v","type":"quantitative","scale":{"domain":[-2,102],"nice":false,"zero":false},"axis":{"title":"Percentage Volume [%]","values":[0,20,40,60,80,100]}},
      "color":{"field":"bolus","type":"nominal","scale":{"domain":["Conv. step bolus","3D printed bolus"],"range":["#cc88e0","#9933cc"]},"legend":{"title":"Lung","legendX":303.4,"legendY":35.5}},
      "strokeDash":{"field":"bolus","type":"nominal","scale":{"domain":["Conv. step bolus","3D printed bolus"],"range":[[2,1.5],[1,0]]},"legend":{"title":"Lung","legendX":303.4,"legendY":35.5}}}},
    {"transform":[{"filter":"datum.p==1 && datum.organ=='Heart'"}],"mark":{"type":"line","strokeWidth":1,"interpolate":"monotone"},
     "encoding":{"x":{"field":"d","type":"quantitative","scale":{"domain":[-0.4,61.8],"nice":false,"zero":false},"axis":{"title":"Dose [Gy]","values":[0,10,20,30,40,50,60]}},
      "y":{"field":"v","type":"quantitative","scale":{"domain":[-2,102],"nice":false,"zero":false},"axis":{"title":"Percentage Volume [%]","values":[0,20,40,60,80,100]}},
      "color":{"field":"bolus","type":"nominal","scale":{"domain":["Conv. step bolus","3D printed bolus"],"range":["#88dccb","#33c4a0"]},"legend":{"title":"Heart","legendX":303.4,"legendY":55}},
      "strokeDash":{"field":"bolus","type":"nominal","scale":{"domain":["Conv. step bolus","3D printed bolus"],"range":[[2,1.5],[1,0]]},"legend":{"title":"Heart","legendX":303.4,"legendY":55}}}}
   ],
   "resolve":{"scale":{"color":"independent","strokeDash":"independent"}}},
  {"layer":[
    {"data":{"values":[{}]},"mark":{"type":"rect","fillOpacity":0,"stroke":"#c4c4c4","strokeWidth":0.8},
     "encoding":{"x":{"datum":-1.1,"type":"quantitative","scale":{"domain":[-1.1,57.6],"range":[73.4,251.4],"nice":false,"zero":false},
        "axis":{"orient":"bottom","offset":-85.4,"title":"Dose [Gy]","values":[0,10,20,30,40,50],"tickSize":1.5,"labelFont":"Liberation Sans","labelFontSize":4,"labelPadding":1,"titleFontSize":5,"titlePadding":1.5}},
      "x2":{"datum":57.6},
      "y":{"datum":0.0102,"type":"quantitative","scale":{"type":"log","domain":[0.0102,132],"range":[141,30],"nice":false,"clamp":true},
        "axis":{"orient":"left","offset":-73.4,"title":"Percentage Volume [%, Log Scaled]","values":[0.1,1,10,100],"format":"~g","tickSize":1.5,"labelFont":"Liberation Sans","labelFontSize":4,"labelPadding":1,"titleFontSize":5,"titlePadding":1.5}},
      "y2":{"datum":132}}},
    {"transform":[{"filter":"datum.p==1 && datum.v>0"}],"mark":{"type":"line","strokeWidth":0.9,"interpolate":"monotone"},
     "encoding":{"x":{"field":"d","type":"quantitative","scale":{"domain":[-1.1,57.6],"range":[73.4,251.4],"nice":false,"zero":false},
        "axis":{"orient":"bottom","offset":-85.4,"title":"Dose [Gy]","values":[0,10,20,30,40,50],"tickSize":1.5,"labelFont":"Liberation Sans","labelFontSize":4,"labelPadding":1,"titleFontSize":5,"titlePadding":1.5}},
      "y":{"field":"v","type":"quantitative","scale":{"type":"log","domain":[0.0102,132],"range":[141,30],"nice":false,"clamp":true},
        "axis":{"orient":"left","offset":-73.4,"title":"Percentage Volume [%, Log Scaled]","values":[0.1,1,10,100],"format":"~g","tickSize":1.5,"labelFont":"Liberation Sans","labelFontSize":4,"labelPadding":1,"titleFontSize":5,"titlePadding":1.5}},
      "color":{"field":"s","type":"nominal","scale":{"domain":["CC","C3","LC","L3","HC","H3"],"range":["#d8a060","#9b6535","#cc88e0","#9933cc","#88dccb","#33c4a0"]},"legend":null},
      "strokeDash":{"field":"bolus","type":"nominal","scale":{"domain":["Conv. step bolus","3D printed bolus"],"range":[[2,1.5],[1,0]]},"legend":null}}}
  ]}
 ],
 "resolve":{"scale":{"x":"independent","y":"independent","color":"independent","strokeDash":"independent"},"axis":{"x":"independent","y":"independent"}}
},
{"width":368,"height":226.4,"title":"Patient 2",
 "layer":[
  {"layer":[
    {"transform":[{"filter":"datum.p==2 && datum.organ=='Chest Wall'"}],"mark":{"type":"line","strokeWidth":1,"interpolate":"monotone"},
     "encoding":{"x":{"field":"d","type":"quantitative","scale":{"domain":[-0.4,61.8],"nice":false,"zero":false},"axis":{"title":"Dose [Gy]","values":[0,10,20,30,40,50,60]}},
      "y":{"field":"v","type":"quantitative","scale":{"domain":[-2,102],"nice":false,"zero":false},"axis":{"title":"Percentage Volume [%]","values":[0,20,40,60,80,100]}},
      "color":{"field":"bolus","type":"nominal","scale":{"domain":["Conv. step bolus","3D printed bolus"],"range":["#d8a060","#9b6535"]},"legend":{"title":"Chest Wall","legendX":303.4,"legendY":16}},
      "strokeDash":{"field":"bolus","type":"nominal","scale":{"domain":["Conv. step bolus","3D printed bolus"],"range":[[2,1.5],[1,0]]},"legend":{"title":"Chest Wall","legendX":303.4,"legendY":16}}}},
    {"transform":[{"filter":"datum.p==2 && datum.organ=='Lung'"}],"mark":{"type":"line","strokeWidth":1,"interpolate":"monotone"},
     "encoding":{"x":{"field":"d","type":"quantitative","scale":{"domain":[-0.4,61.8],"nice":false,"zero":false},"axis":{"title":"Dose [Gy]","values":[0,10,20,30,40,50,60]}},
      "y":{"field":"v","type":"quantitative","scale":{"domain":[-2,102],"nice":false,"zero":false},"axis":{"title":"Percentage Volume [%]","values":[0,20,40,60,80,100]}},
      "color":{"field":"bolus","type":"nominal","scale":{"domain":["Conv. step bolus","3D printed bolus"],"range":["#cc88e0","#9933cc"]},"legend":{"title":"Lung","legendX":303.4,"legendY":35.5}},
      "strokeDash":{"field":"bolus","type":"nominal","scale":{"domain":["Conv. step bolus","3D printed bolus"],"range":[[2,1.5],[1,0]]},"legend":{"title":"Lung","legendX":303.4,"legendY":35.5}}}},
    {"transform":[{"filter":"datum.p==2 && datum.organ=='Heart'"}],"mark":{"type":"line","strokeWidth":1,"interpolate":"monotone"},
     "encoding":{"x":{"field":"d","type":"quantitative","scale":{"domain":[-0.4,61.8],"nice":false,"zero":false},"axis":{"title":"Dose [Gy]","values":[0,10,20,30,40,50,60]}},
      "y":{"field":"v","type":"quantitative","scale":{"domain":[-2,102],"nice":false,"zero":false},"axis":{"title":"Percentage Volume [%]","values":[0,20,40,60,80,100]}},
      "color":{"field":"bolus","type":"nominal","scale":{"domain":["Conv. step bolus","3D printed bolus"],"range":["#88dccb","#33c4a0"]},"legend":{"title":"Heart","legendX":303.4,"legendY":55}},
      "strokeDash":{"field":"bolus","type":"nominal","scale":{"domain":["Conv. step bolus","3D printed bolus"],"range":[[2,1.5],[1,0]]},"legend":{"title":"Heart","legendX":303.4,"legendY":55}}}}
   ],
   "resolve":{"scale":{"color":"independent","strokeDash":"independent"}}},
  {"layer":[
    {"data":{"values":[{}]},"mark":{"type":"rect","fillOpacity":0,"stroke":"#c4c4c4","strokeWidth":0.8},
     "encoding":{"x":{"datum":-1.0,"type":"quantitative","scale":{"domain":[-1.0,57.8],"range":[71.7,252.3],"nice":false,"zero":false},
        "axis":{"orient":"bottom","offset":-84.7,"title":"Dose [Gy]","values":[0,10,20,30,40,50],"tickSize":1.5,"labelFont":"Liberation Sans","labelFontSize":4,"labelPadding":1,"titleFontSize":5,"titlePadding":1.5}},
      "x2":{"datum":57.8},
      "y":{"datum":0.00227,"type":"quantitative","scale":{"type":"log","base":2.718281828459045,"domain":[0.00227,134],"range":[141.7,29],"nice":false,"clamp":true},
        "axis":{"orient":"left","offset":-71.7,"title":"Percentage Volume [%, Log Scaled]","values":[54.598150033,7.389056099,1,0.135335283,0.018315639,0.002478752],"labelExpr":"format(round(log(datum.value)),'d')","tickSize":1.5,"labelFont":"Liberation Sans","labelFontSize":4,"labelPadding":1,"titleFontSize":5,"titlePadding":1.5}},
      "y2":{"datum":134}}},
    {"transform":[{"filter":"datum.p==2 && datum.v>0"}],"mark":{"type":"line","strokeWidth":0.9,"interpolate":"monotone"},
     "encoding":{"x":{"field":"d","type":"quantitative","scale":{"domain":[-1.0,57.8],"range":[71.7,252.3],"nice":false,"zero":false},
        "axis":{"orient":"bottom","offset":-84.7,"title":"Dose [Gy]","values":[0,10,20,30,40,50],"tickSize":1.5,"labelFont":"Liberation Sans","labelFontSize":4,"labelPadding":1,"titleFontSize":5,"titlePadding":1.5}},
      "y":{"field":"v","type":"quantitative","scale":{"type":"log","base":2.718281828459045,"domain":[0.00227,134],"range":[141.7,29],"nice":false,"clamp":true},
        "axis":{"orient":"left","offset":-71.7,"title":"Percentage Volume [%, Log Scaled]","values":[54.598150033,7.389056099,1,0.135335283,0.018315639,0.002478752],"labelExpr":"format(round(log(datum.value)),'d')","tickSize":1.5,"labelFont":"Liberation Sans","labelFontSize":4,"labelPadding":1,"titleFontSize":5,"titlePadding":1.5}},
      "color":{"field":"s","type":"nominal","scale":{"domain":["CC","C3","LC","L3","HC","H3"],"range":["#d8a060","#9b6535","#cc88e0","#9933cc","#88dccb","#33c4a0"]},"legend":null},
      "strokeDash":{"field":"bolus","type":"nominal","scale":{"domain":["Conv. step bolus","3D printed bolus"],"range":[[2,1.5],[1,0]]},"legend":null}}}
  ]}
 ],
 "resolve":{"scale":{"x":"independent","y":"independent","color":"independent","strokeDash":"independent"},"axis":{"x":"independent","y":"independent"}}
},
{"width":368,"height":226.4,"title":"Patient 3",
 "layer":[
  {"layer":[
    {"transform":[{"filter":"datum.p==3 && datum.organ=='Chest Wall'"}],"mark":{"type":"line","strokeWidth":1,"interpolate":"monotone"},
     "encoding":{"x":{"field":"d","type":"quantitative","scale":{"domain":[-0.4,61.8],"nice":false,"zero":false},"axis":{"title":"Dose [Gy]","values":[0,10,20,30,40,50,60]}},
      "y":{"field":"v","type":"quantitative","scale":{"domain":[-2,102],"nice":false,"zero":false},"axis":{"title":"Percentage Volume [%]","values":[0,20,40,60,80,100]}},
      "color":{"field":"bolus","type":"nominal","scale":{"domain":["Conv. step bolus","3D printed bolus"],"range":["#d8a060","#9b6535"]},"legend":{"title":"Chest Wall","legendX":303.4,"legendY":16}},
      "strokeDash":{"field":"bolus","type":"nominal","scale":{"domain":["Conv. step bolus","3D printed bolus"],"range":[[2,1.5],[1,0]]},"legend":{"title":"Chest Wall","legendX":303.4,"legendY":16}}}},
    {"transform":[{"filter":"datum.p==3 && datum.organ=='Lung'"}],"mark":{"type":"line","strokeWidth":1,"interpolate":"monotone"},
     "encoding":{"x":{"field":"d","type":"quantitative","scale":{"domain":[-0.4,61.8],"nice":false,"zero":false},"axis":{"title":"Dose [Gy]","values":[0,10,20,30,40,50,60]}},
      "y":{"field":"v","type":"quantitative","scale":{"domain":[-2,102],"nice":false,"zero":false},"axis":{"title":"Percentage Volume [%]","values":[0,20,40,60,80,100]}},
      "color":{"field":"bolus","type":"nominal","scale":{"domain":["Conv. step bolus","3D printed bolus"],"range":["#cc88e0","#9933cc"]},"legend":{"title":"Lung","legendX":303.4,"legendY":35.5}},
      "strokeDash":{"field":"bolus","type":"nominal","scale":{"domain":["Conv. step bolus","3D printed bolus"],"range":[[2,1.5],[1,0]]},"legend":{"title":"Lung","legendX":303.4,"legendY":35.5}}}},
    {"transform":[{"filter":"datum.p==3 && datum.organ=='Heart'"}],"mark":{"type":"line","strokeWidth":1,"interpolate":"monotone"},
     "encoding":{"x":{"field":"d","type":"quantitative","scale":{"domain":[-0.4,61.8],"nice":false,"zero":false},"axis":{"title":"Dose [Gy]","values":[0,10,20,30,40,50,60]}},
      "y":{"field":"v","type":"quantitative","scale":{"domain":[-2,102],"nice":false,"zero":false},"axis":{"title":"Percentage Volume [%]","values":[0,20,40,60,80,100]}},
      "color":{"field":"bolus","type":"nominal","scale":{"domain":["Conv. step bolus","3D printed bolus"],"range":["#88dccb","#33c4a0"]},"legend":{"title":"Heart","legendX":303.4,"legendY":55}},
      "strokeDash":{"field":"bolus","type":"nominal","scale":{"domain":["Conv. step bolus","3D printed bolus"],"range":[[2,1.5],[1,0]]},"legend":{"title":"Heart","legendX":303.4,"legendY":55}}}}
   ],
   "resolve":{"scale":{"color":"independent","strokeDash":"independent"}}},
  {"layer":[
    {"data":{"values":[{}]},"mark":{"type":"rect","fillOpacity":0,"stroke":"#c4c4c4","strokeWidth":0.8},
     "encoding":{"x":{"datum":-1.4,"type":"quantitative","scale":{"domain":[-1.4,60.5],"range":[73.4,251.7],"nice":false,"zero":false},
        "axis":{"orient":"bottom","offset":-85.7,"title":"Dose [Gy]","values":[0,10,20,30,40,50,60],"tickSize":1.5,"labelFont":"Liberation Sans","labelFontSize":4,"labelPadding":1,"titleFontSize":5,"titlePadding":1.5}},
      "x2":{"datum":60.5},
      "y":{"datum":0.00208,"type":"quantitative","scale":{"type":"log","domain":[0.00208,126],"range":[140.7,31],"nice":false,"clamp":true},
        "axis":{"orient":"left","offset":-73.4,"title":"Percentage Volume [%, Log Scaled]","values":[0.01,0.1,1,10,100],"format":"~g","tickSize":1.5,"labelFont":"Liberation Sans","labelFontSize":4,"labelPadding":1,"titleFontSize":5,"titlePadding":1.5}},
      "y2":{"datum":126}}},
    {"transform":[{"filter":"datum.p==3 && datum.v>0"}],"mark":{"type":"line","strokeWidth":0.9,"interpolate":"monotone"},
     "encoding":{"x":{"field":"d","type":"quantitative","scale":{"domain":[-1.4,60.5],"range":[73.4,251.7],"nice":false,"zero":false},
        "axis":{"orient":"bottom","offset":-85.7,"title":"Dose [Gy]","values":[0,10,20,30,40,50,60],"tickSize":1.5,"labelFont":"Liberation Sans","labelFontSize":4,"labelPadding":1,"titleFontSize":5,"titlePadding":1.5}},
      "y":{"field":"v","type":"quantitative","scale":{"type":"log","domain":[0.00208,126],"range":[140.7,31],"nice":false,"clamp":true},
        "axis":{"orient":"left","offset":-73.4,"title":"Percentage Volume [%, Log Scaled]","values":[0.01,0.1,1,10,100],"format":"~g","tickSize":1.5,"labelFont":"Liberation Sans","labelFontSize":4,"labelPadding":1,"titleFontSize":5,"titlePadding":1.5}},
      "color":{"field":"s","type":"nominal","scale":{"domain":["CC","C3","LC","L3","HC","H3"],"range":["#d8a060","#9b6535","#cc88e0","#9933cc","#88dccb","#33c4a0"]},"legend":null},
      "strokeDash":{"field":"bolus","type":"nominal","scale":{"domain":["Conv. step bolus","3D printed bolus"],"range":[[2,1.5],[1,0]]},"legend":null}}}
  ]}
 ],
 "resolve":{"scale":{"x":"independent","y":"independent","color":"independent","strokeDash":"independent"},"axis":{"x":"independent","y":"independent"}}
},
{"width":368,"height":226.4,"title":"Patient 4",
 "layer":[
  {"layer":[
    {"transform":[{"filter":"datum.p==4 && datum.organ=='Chest Wall'"}],"mark":{"type":"line","strokeWidth":1,"interpolate":"monotone"},
     "encoding":{"x":{"field":"d","type":"quantitative","scale":{"domain":[-0.4,61.8],"nice":false,"zero":false},"axis":{"title":"Dose [Gy]","values":[0,10,20,30,40,50,60]}},
      "y":{"field":"v","type":"quantitative","scale":{"domain":[-2,102],"nice":false,"zero":false},"axis":{"title":"Percentage Volume [%]","values":[0,20,40,60,80,100]}},
      "color":{"field":"bolus","type":"nominal","scale":{"domain":["Conv. step bolus","3D printed bolus"],"range":["#d8a060","#9b6535"]},"legend":{"title":"Chest Wall","legendX":303.4,"legendY":16}},
      "strokeDash":{"field":"bolus","type":"nominal","scale":{"domain":["Conv. step bolus","3D printed bolus"],"range":[[2,1.5],[1,0]]},"legend":{"title":"Chest Wall","legendX":303.4,"legendY":16}}}},
    {"transform":[{"filter":"datum.p==4 && datum.organ=='Lung'"}],"mark":{"type":"line","strokeWidth":1,"interpolate":"monotone"},
     "encoding":{"x":{"field":"d","type":"quantitative","scale":{"domain":[-0.4,61.8],"nice":false,"zero":false},"axis":{"title":"Dose [Gy]","values":[0,10,20,30,40,50,60]}},
      "y":{"field":"v","type":"quantitative","scale":{"domain":[-2,102],"nice":false,"zero":false},"axis":{"title":"Percentage Volume [%]","values":[0,20,40,60,80,100]}},
      "color":{"field":"bolus","type":"nominal","scale":{"domain":["Conv. step bolus","3D printed bolus"],"range":["#cc88e0","#9933cc"]},"legend":{"title":"Lung","legendX":303.4,"legendY":35.5}},
      "strokeDash":{"field":"bolus","type":"nominal","scale":{"domain":["Conv. step bolus","3D printed bolus"],"range":[[2,1.5],[1,0]]},"legend":{"title":"Lung","legendX":303.4,"legendY":35.5}}}},
    {"transform":[{"filter":"datum.p==4 && datum.organ=='Heart'"}],"mark":{"type":"line","strokeWidth":1,"interpolate":"monotone"},
     "encoding":{"x":{"field":"d","type":"quantitative","scale":{"domain":[-0.4,61.8],"nice":false,"zero":false},"axis":{"title":"Dose [Gy]","values":[0,10,20,30,40,50,60]}},
      "y":{"field":"v","type":"quantitative","scale":{"domain":[-2,102],"nice":false,"zero":false},"axis":{"title":"Percentage Volume [%]","values":[0,20,40,60,80,100]}},
      "color":{"field":"bolus","type":"nominal","scale":{"domain":["Conv. step bolus","3D printed bolus"],"range":["#88dccb","#33c4a0"]},"legend":{"title":"Heart","legendX":303.4,"legendY":55}},
      "strokeDash":{"field":"bolus","type":"nominal","scale":{"domain":["Conv. step bolus","3D printed bolus"],"range":[[2,1.5],[1,0]]},"legend":{"title":"Heart","legendX":303.4,"legendY":55}}}}
   ],
   "resolve":{"scale":{"color":"independent","strokeDash":"independent"}}},
  {"layer":[
    {"data":{"values":[{}]},"mark":{"type":"rect","fillOpacity":0,"stroke":"#c4c4c4","strokeWidth":0.8},
     "encoding":{"x":{"datum":-0.8,"type":"quantitative","scale":{"domain":[-0.8,54.4],"range":[74.7,252],"nice":false,"zero":false},
        "axis":{"orient":"bottom","offset":-87.4,"title":"Dose [Gy]","values":[0,10,20,30,40,50],"tickSize":1.5,"labelFont":"Liberation Sans","labelFontSize":4,"labelPadding":1,"titleFontSize":5,"titlePadding":1.5}},
      "x2":{"datum":54.4},
      "y":{"datum":0.0021,"type":"quantitative","scale":{"type":"log","domain":[0.0021,126],"range":[139,31],"nice":false,"clamp":true},
        "axis":{"orient":"left","offset":-74.7,"title":"Percentage Volume [%, Log Scaled]","values":[0.01,0.1,1,10,100],"format":"~g","tickSize":1.5,"labelFont":"Liberation Sans","labelFontSize":4,"labelPadding":1,"titleFontSize":5,"titlePadding":1.5}},
      "y2":{"datum":126}}},
    {"transform":[{"filter":"datum.p==4 && datum.v>0"}],"mark":{"type":"line","strokeWidth":0.9,"interpolate":"monotone"},
     "encoding":{"x":{"field":"d","type":"quantitative","scale":{"domain":[-0.8,54.4],"range":[74.7,252],"nice":false,"zero":false},
        "axis":{"orient":"bottom","offset":-87.4,"title":"Dose [Gy]","values":[0,10,20,30,40,50],"tickSize":1.5,"labelFont":"Liberation Sans","labelFontSize":4,"labelPadding":1,"titleFontSize":5,"titlePadding":1.5}},
      "y":{"field":"v","type":"quantitative","scale":{"type":"log","domain":[0.0021,126],"range":[139,31],"nice":false,"clamp":true},
        "axis":{"orient":"left","offset":-74.7,"title":"Percentage Volume [%, Log Scaled]","values":[0.01,0.1,1,10,100],"format":"~g","tickSize":1.5,"labelFont":"Liberation Sans","labelFontSize":4,"labelPadding":1,"titleFontSize":5,"titlePadding":1.5}},
      "color":{"field":"s","type":"nominal","scale":{"domain":["CC","C3","LC","L3","HC","H3"],"range":["#d8a060","#9b6535","#cc88e0","#9933cc","#88dccb","#33c4a0"]},"legend":null},
      "strokeDash":{"field":"bolus","type":"nominal","scale":{"domain":["Conv. step bolus","3D printed bolus"],"range":[[2,1.5],[1,0]]},"legend":null}}}
  ]}
 ],
 "resolve":{"scale":{"x":"independent","y":"independent","color":"independent","strokeDash":"independent"},"axis":{"x":"independent","y":"independent"}}
},
{"width":368,"height":226.4,"title":"Patient 5",
 "layer":[
  {"layer":[
    {"transform":[{"filter":"datum.p==5 && datum.organ=='Chest Wall'"}],"mark":{"type":"line","strokeWidth":1,"interpolate":"monotone"},
     "encoding":{"x":{"field":"d","type":"quantitative","scale":{"domain":[-0.4,61.8],"nice":false,"zero":false},"axis":{"title":"Dose [Gy]","values":[0,10,20,30,40,50,60]}},
      "y":{"field":"v","type":"quantitative","scale":{"domain":[-2,102],"nice":false,"zero":false},"axis":{"title":"Percentage Volume [%]","values":[0,20,40,60,80,100]}},
      "color":{"field":"bolus","type":"nominal","scale":{"domain":["Conv. step bolus","3D printed bolus"],"range":["#d8a060","#9b6535"]},"legend":{"title":"Chest Wall","legendX":303.4,"legendY":16}},
      "strokeDash":{"field":"bolus","type":"nominal","scale":{"domain":["Conv. step bolus","3D printed bolus"],"range":[[2,1.5],[1,0]]},"legend":{"title":"Chest Wall","legendX":303.4,"legendY":16}}}},
    {"transform":[{"filter":"datum.p==5 && datum.organ=='Lung'"}],"mark":{"type":"line","strokeWidth":1,"interpolate":"monotone"},
     "encoding":{"x":{"field":"d","type":"quantitative","scale":{"domain":[-0.4,61.8],"nice":false,"zero":false},"axis":{"title":"Dose [Gy]","values":[0,10,20,30,40,50,60]}},
      "y":{"field":"v","type":"quantitative","scale":{"domain":[-2,102],"nice":false,"zero":false},"axis":{"title":"Percentage Volume [%]","values":[0,20,40,60,80,100]}},
      "color":{"field":"bolus","type":"nominal","scale":{"domain":["Conv. step bolus","3D printed bolus"],"range":["#cc88e0","#9933cc"]},"legend":{"title":"Lung","legendX":303.4,"legendY":35.5}},
      "strokeDash":{"field":"bolus","type":"nominal","scale":{"domain":["Conv. step bolus","3D printed bolus"],"range":[[2,1.5],[1,0]]},"legend":{"title":"Lung","legendX":303.4,"legendY":35.5}}}},
    {"transform":[{"filter":"datum.p==5 && datum.organ=='Heart'"}],"mark":{"type":"line","strokeWidth":1,"interpolate":"monotone"},
     "encoding":{"x":{"field":"d","type":"quantitative","scale":{"domain":[-0.4,61.8],"nice":false,"zero":false},"axis":{"title":"Dose [Gy]","values":[0,10,20,30,40,50,60]}},
      "y":{"field":"v","type":"quantitative","scale":{"domain":[-2,102],"nice":false,"zero":false},"axis":{"title":"Percentage Volume [%]","values":[0,20,40,60,80,100]}},
      "color":{"field":"bolus","type":"nominal","scale":{"domain":["Conv. step bolus","3D printed bolus"],"range":["#88dccb","#33c4a0"]},"legend":{"title":"Heart","legendX":303.4,"legendY":55}},
      "strokeDash":{"field":"bolus","type":"nominal","scale":{"domain":["Conv. step bolus","3D printed bolus"],"range":[[2,1.5],[1,0]]},"legend":{"title":"Heart","legendX":303.4,"legendY":55}}}}
   ],
   "resolve":{"scale":{"color":"independent","strokeDash":"independent"}}},
  {"layer":[
    {"data":{"values":[{}]},"mark":{"type":"rect","fillOpacity":0,"stroke":"#c4c4c4","strokeWidth":0.8},
     "encoding":{"x":{"datum":-1.3,"type":"quantitative","scale":{"domain":[-1.3,57.7],"range":[72.4,251.7],"nice":false,"zero":false},
        "axis":{"orient":"bottom","offset":-85.7,"title":"Dose [Gy]","values":[0,10,20,30,40,50],"tickSize":1.5,"labelFont":"Liberation Sans","labelFontSize":4,"labelPadding":1,"titleFontSize":5,"titlePadding":1.5}},
      "x2":{"datum":57.7},
      "y":{"datum":0.01,"type":"quantitative","scale":{"type":"log","domain":[0.01,112],"range":[140.7,30.7],"nice":false,"clamp":true},
        "axis":{"orient":"left","offset":-72.4,"title":"Percentage Volume [%, Log Scaled]","values":[0.1,1,10,100],"format":"~g","tickSize":1.5,"labelFont":"Liberation Sans","labelFontSize":4,"labelPadding":1,"titleFontSize":5,"titlePadding":1.5}},
      "y2":{"datum":112}}},
    {"transform":[{"filter":"datum.p==5 && datum.v>0"}],"mark":{"type":"line","strokeWidth":0.9,"interpolate":"monotone"},
     "encoding":{"x":{"field":"d","type":"quantitative","scale":{"domain":[-1.3,57.7],"range":[72.4,251.7],"nice":false,"zero":false},
        "axis":{"orient":"bottom","offset":-85.7,"title":"Dose [Gy]","values":[0,10,20,30,40,50],"tickSize":1.5,"labelFont":"Liberation Sans","labelFontSize":4,"labelPadding":1,"titleFontSize":5,"titlePadding":1.5}},
      "y":{"field":"v","type":"quantitative","scale":{"type":"log","domain":[0.01,112],"range":[140.7,30.7],"nice":false,"clamp":true},
        "axis":{"orient":"left","offset":-72.4,"title":"Percentage Volume [%, Log Scaled]","values":[0.1,1,10,100],"format":"~g","tickSize":1.5,"labelFont":"Liberation Sans","labelFontSize":4,"labelPadding":1,"titleFontSize":5,"titlePadding":1.5}},
      "color":{"field":"s","type":"nominal","scale":{"domain":["CC","C3","LC","L3","HC","H3"],"range":["#d8a060","#9b6535","#cc88e0","#9933cc","#88dccb","#33c4a0"]},"legend":null},
      "strokeDash":{"field":"bolus","type":"nominal","scale":{"domain":["Conv. step bolus","3D printed bolus"],"range":[[2,1.5],[1,0]]},"legend":null}}}
  ]}
 ],
 "resolve":{"scale":{"x":"independent","y":"independent","color":"independent","strokeDash":"independent"},"axis":{"x":"independent","y":"independent"}}
},
{"width":368,"height":226.4,"title":"Patient 6",
 "layer":[
  {"layer":[
    {"transform":[{"filter":"datum.p==6 && datum.organ=='Chest Wall'"}],"mark":{"type":"line","strokeWidth":1,"interpolate":"monotone"},
     "encoding":{"x":{"field":"d","type":"quantitative","scale":{"domain":[-0.4,61.8],"nice":false,"zero":false},"axis":{"title":"Dose [Gy]","values":[0,10,20,30,40,50,60]}},
      "y":{"field":"v","type":"quantitative","scale":{"domain":[-2,102],"nice":false,"zero":false},"axis":{"title":"Percentage Volume [%]","values":[0,20,40,60,80,100]}},
      "color":{"field":"bolus","type":"nominal","scale":{"domain":["Conv. step bolus","3D printed bolus"],"range":["#d8a060","#9b6535"]},"legend":{"title":"Chest Wall","legendX":303.4,"legendY":16}},
      "strokeDash":{"field":"bolus","type":"nominal","scale":{"domain":["Conv. step bolus","3D printed bolus"],"range":[[2,1.5],[1,0]]},"legend":{"title":"Chest Wall","legendX":303.4,"legendY":16}}}},
    {"transform":[{"filter":"datum.p==6 && datum.organ=='Lung'"}],"mark":{"type":"line","strokeWidth":1,"interpolate":"monotone"},
     "encoding":{"x":{"field":"d","type":"quantitative","scale":{"domain":[-0.4,61.8],"nice":false,"zero":false},"axis":{"title":"Dose [Gy]","values":[0,10,20,30,40,50,60]}},
      "y":{"field":"v","type":"quantitative","scale":{"domain":[-2,102],"nice":false,"zero":false},"axis":{"title":"Percentage Volume [%]","values":[0,20,40,60,80,100]}},
      "color":{"field":"bolus","type":"nominal","scale":{"domain":["Conv. step bolus","3D printed bolus"],"range":["#cc88e0","#9933cc"]},"legend":{"title":"Lung","legendX":303.4,"legendY":35.5}},
      "strokeDash":{"field":"bolus","type":"nominal","scale":{"domain":["Conv. step bolus","3D printed bolus"],"range":[[2,1.5],[1,0]]},"legend":{"title":"Lung","legendX":303.4,"legendY":35.5}}}},
    {"transform":[{"filter":"datum.p==6 && datum.organ=='Heart'"}],"mark":{"type":"line","strokeWidth":1,"interpolate":"monotone"},
     "encoding":{"x":{"field":"d","type":"quantitative","scale":{"domain":[-0.4,61.8],"nice":false,"zero":false},"axis":{"title":"Dose [Gy]","values":[0,10,20,30,40,50,60]}},
      "y":{"field":"v","type":"quantitative","scale":{"domain":[-2,102],"nice":false,"zero":false},"axis":{"title":"Percentage Volume [%]","values":[0,20,40,60,80,100]}},
      "color":{"field":"bolus","type":"nominal","scale":{"domain":["Conv. step bolus","3D printed bolus"],"range":["#88dccb","#33c4a0"]},"legend":{"title":"Heart","legendX":303.4,"legendY":55}},
      "strokeDash":{"field":"bolus","type":"nominal","scale":{"domain":["Conv. step bolus","3D printed bolus"],"range":[[2,1.5],[1,0]]},"legend":{"title":"Heart","legendX":303.4,"legendY":55}}}}
   ],
   "resolve":{"scale":{"color":"independent","strokeDash":"independent"}}},
  {"layer":[
    {"data":{"values":[{}]},"mark":{"type":"rect","fillOpacity":0,"stroke":"#c4c4c4","strokeWidth":0.8},
     "encoding":{"x":{"datum":-1.2,"type":"quantitative","scale":{"domain":[-1.2,61.3],"range":[74,251],"nice":false,"zero":false},
        "axis":{"orient":"bottom","offset":-98.1,"title":"Dose [Gy]","values":[0,10,20,30,40,50,60],"tickSize":1.5,"labelFont":"Liberation Sans","labelFontSize":4,"labelPadding":1,"titleFontSize":5,"titlePadding":1.5}},
      "x2":{"datum":61.3},
      "y":{"datum":0.0092,"type":"quantitative","scale":{"type":"log","domain":[0.0092,112],"range":[128.3,19],"nice":false,"clamp":true},
        "axis":{"orient":"left","offset":-74,"title":"Percentage Volume [%, Log Scaled]","values":[0.01,0.1,1,10,100],"format":"~g","tickSize":1.5,"labelFont":"Liberation Sans","labelFontSize":4,"labelPadding":1,"titleFontSize":5,"titlePadding":1.5}},
      "y2":{"datum":112}}},
    {"transform":[{"filter":"datum.p==6 && datum.v>0"}],"mark":{"type":"line","strokeWidth":0.9,"interpolate":"monotone"},
     "encoding":{"x":{"field":"d","type":"quantitative","scale":{"domain":[-1.2,61.3],"range":[74,251],"nice":false,"zero":false},
        "axis":{"orient":"bottom","offset":-98.1,"title":"Dose [Gy]","values":[0,10,20,30,40,50,60],"tickSize":1.5,"labelFont":"Liberation Sans","labelFontSize":4,"labelPadding":1,"titleFontSize":5,"titlePadding":1.5}},
      "y":{"field":"v","type":"quantitative","scale":{"type":"log","domain":[0.0092,112],"range":[128.3,19],"nice":false,"clamp":true},
        "axis":{"orient":"left","offset":-74,"title":"Percentage Volume [%, Log Scaled]","values":[0.01,0.1,1,10,100],"format":"~g","tickSize":1.5,"labelFont":"Liberation Sans","labelFontSize":4,"labelPadding":1,"titleFontSize":5,"titlePadding":1.5}},
      "color":{"field":"s","type":"nominal","scale":{"domain":["CC","C3","LC","L3","HC","H3"],"range":["#d8a060","#9b6535","#cc88e0","#9933cc","#88dccb","#33c4a0"]},"legend":null},
      "strokeDash":{"field":"bolus","type":"nominal","scale":{"domain":["Conv. step bolus","3D printed bolus"],"range":[[2,1.5],[1,0]]},"legend":null}}}
  ]}
 ],
 "resolve":{"scale":{"x":"independent","y":"independent","color":"independent","strokeDash":"independent"},"axis":{"x":"independent","y":"independent"}}
}
]
}
